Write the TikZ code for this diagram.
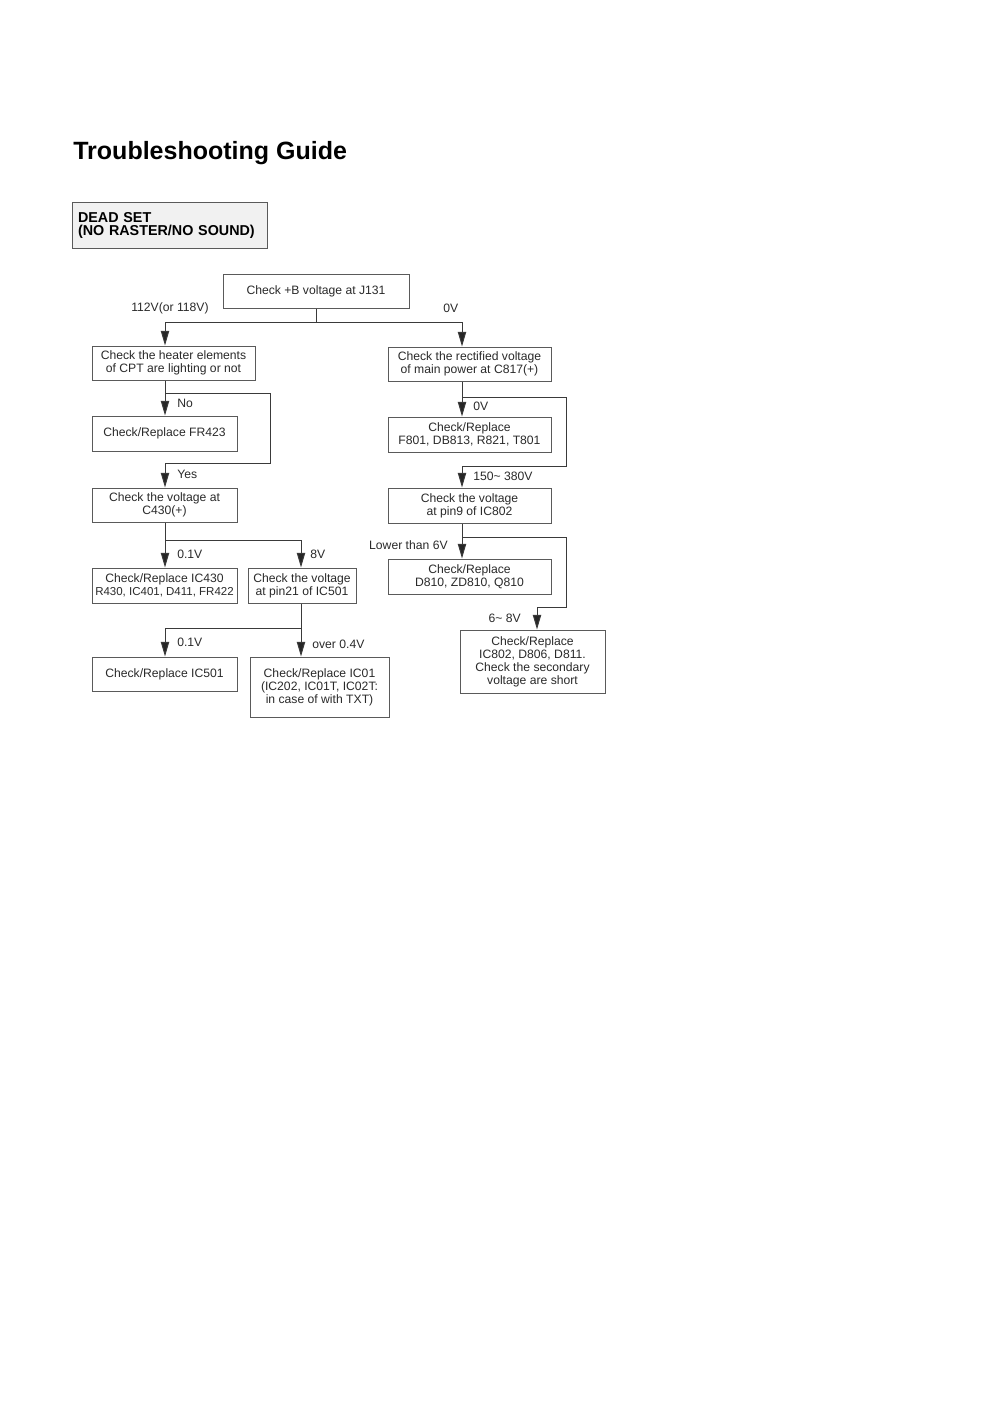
\documentclass[tikz,border=0pt]{standalone}
\usepackage{fontspec}
\setmainfont{Liberation Sans}
\usetikzlibrary{arrows.meta}
\definecolor{lncol}{HTML}{3a3a3a}
\definecolor{boxcol}{HTML}{5a5a5a}
\definecolor{txtcol}{HTML}{2a2a2a}
\definecolor{deadfill}{HTML}{F1F1F1}
\newcommand{\fs}{\fontsize{7.3}{7.8}\selectfont}
\newcommand{\bx}[7][]{\node[box, minimum width={(#5-#3)*0.6pt}, minimum height={(#6-#4)*0.6pt}, #1] (#2) at ({(#3+#5)/2},{(#4+#6)/2}) {#7};}
\begin{document}
\begin{tikzpicture}[x=0.6pt,y=-0.6pt,
  box/.style={draw=boxcol, line width=0.6pt, inner sep=0pt, align=center, font=\fs, text=txtcol},
  lbl/.style={inner sep=0pt, font=\fs, text=txtcol},
  lnk/.style={draw=lncol, line width=0.6pt},
  arr/.style={lnk, -{Triangle[length=8.8pt,width=5pt,fill=black!85]}}]
\useasboundingbox[fill=white] (0,0) rectangle (992,1404);

\node[anchor=base west, inner sep=0pt, font=\bfseries\fontsize{15}{17}\selectfont] (title) at (73,159) {Troubleshooting Guide};

\node[draw=boxcol, fill=deadfill, line width=0.6pt, inner sep=0pt, minimum width=117pt, minimum height=27.6pt, align=left, text width=109.8pt, font=\bfseries\fontsize{8.6}{7.8}\selectfont] (dead) at (169.5,225.5) {DEAD SET\\(NO RASTER/NO SOUND)};

% boxes
\bx{j131}{223}{274}{409}{308}{Check +B voltage at J131}
\bx{heat}{92}{346}{255}{380}{Check the heater elements\\of CPT are lighting or not}
\bx{rect}{388}{347}{551}{381}{Check the rectified voltage\\of main power at C817(+)}
\bx{fr423}{92}{416}{237}{451}{Check/Replace FR423}
\bx{c430}{92}{488}{237}{522}{Check the voltage at\\C430(+)}
\bx{ic430}{92}{568}{237}{603}{Check/Replace IC430\\{\fontsize{6.9}{7.8}\selectfont R430, IC401, D411, FR422}}
\bx{pin21}{248}{568}{356}{603}{Check the voltage\\at pin21 of IC501}
\bx{ic501}{92}{657}{237}{691}{Check/Replace IC501}
\bx{ic01}{250}{657}{389}{717}{Check/Replace IC01\\(IC202, IC01T, IC02T:\\in case of with TXT)}
\bx{f801}{388}{417}{551}{452}{Check/Replace\\F801, DB813, R821, T801}
\bx{pin9}{388}{488}{551}{523}{Check the voltage\\at pin9 of IC802}
\bx{d810}{388}{559}{551}{594}{Check/Replace\\D810, ZD810, Q810}
\bx{ic802}{460}{630}{605}{693}{Check/Replace\\IC802, D806, D811.\\Check the secondary\\voltage are short}

% labels
\node[lbl, anchor=east] (l112) at (209,308) {112V(or 118V)};
\node[lbl, anchor=west] (l0v) at (443,308) {0V};
\node[lbl, anchor=west] (lno) at (177,403) {No};
\node[lbl, anchor=west] (lyes) at (177,474) {Yes};
\node[lbl, anchor=west] (l01a) at (177,554) {0.1V};
\node[lbl, anchor=west] (l8v) at (310,554) {8V};
\node[lbl, anchor=west] (l01b) at (177,642) {0.1V};
\node[lbl, anchor=west] (lover) at (312,644) {over 0.4V};
\node[lbl, anchor=west] (l0vb) at (473,406) {0V};
\node[lbl, anchor=west] (l150) at (473,476) {150\textasciitilde{} 380V};
\node[lbl, anchor=east] (llow) at (448,545) {Lower than 6V};
\node[lbl, anchor=east] (l68) at (521,618) {6\textasciitilde{} 8V};

% coordinates
\coordinate (L) at (165,0);
\coordinate (R) at (462,0);
\coordinate (s1) at (316,322);
\coordinate (n1) at (165,393);
\coordinate (n2) at (270,393);
\coordinate (n3) at (270,463);
\coordinate (n4) at (165,463);
\coordinate (n5) at (165,540);
\coordinate (n6) at (301,540);
\coordinate (n7) at (301,628);
\coordinate (n8) at (165,628);
\coordinate (r1) at (462,397);
\coordinate (r2) at (566,397);
\coordinate (r3) at (566,466);
\coordinate (r4) at (462,466);
\coordinate (r5) at (462,537);
\coordinate (r6) at (566,537);
\coordinate (r7) at (566,607);
\coordinate (r8) at (537,607);

% connectors
\draw[lnk] (j131.south) -- (s1);
\draw[arr] (s1) -| (heat.north -| L);
\draw[arr] (s1) -| (rect.north -| R);

\draw[arr] (heat.south -| L) -- (fr423.north -| L);
\draw[lnk] (n1) -- (n2) -- (n3) -- (n4);
\draw[arr] (n4) -- (c430.north -| L);

\draw[arr] (c430.south -| L) -- (ic430.north -| L);
\draw[arr] (n5) -- (n6) -- (pin21.north -| n6);

\draw[arr] (pin21.south -| n7) -- (ic01.north -| n7);
\draw[arr] (n7) -- (n8) -- (ic501.north -| n8);

\draw[arr] (rect.south -| R) -- (f801.north -| R);
\draw[lnk] (r1) -- (r2) -- (r3) -- (r4);
\draw[arr] (r4) -- (pin9.north -| R);

\draw[arr] (pin9.south -| R) -- (d810.north -| R);
\draw[arr] (r5) -- (r6) -- (r7) -- (r8) -- (ic802.north -| r8);
\end{tikzpicture}
\end{document}
